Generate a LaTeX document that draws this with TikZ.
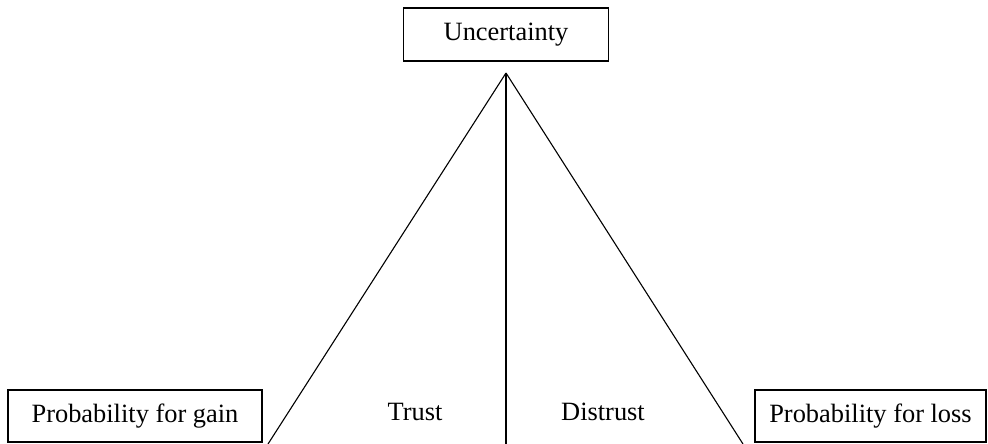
\documentclass[tikz,border=0pt]{standalone}
\usepackage{fontspec}
\setmainfont{Liberation Serif}
\begin{document}
\begin{tikzpicture}[x=1pt,y=-1pt,
  lbl/.style={font=\fontsize{26.4}{31}\selectfont, inner sep=0pt},
  box/.style={lbl, draw, line width=1.2pt},
  edge/.style={line width=1.1pt}]
\useasboundingbox (0,0) rectangle (988,444);
% boxes
\node[box, minimum width=205pt, minimum height=53pt] (unc) at (506,34.5) {Uncertainty};
\node[box, minimum width=254pt, minimum height=52pt] (gain) at (135,416) {Probability for gain};
\node[box, minimum width=231pt, minimum height=52pt] (loss) at (870.5,416) {Probability for loss};
% apex and base points of the three lines
\coordinate (apex) at (506,73);
\coordinate (bl) at (268,444);
\coordinate (bm) at (506,444);
\coordinate (br) at (743,444);
\draw[edge] (apex) -- (bl);
\draw[edge] (apex) -- (bm);
\draw[edge] (apex) -- (br);
% region labels
\node[lbl, anchor=base] (trust) at (415,420) {Trust};
\node[lbl, anchor=base] (distrust) at (603,420) {Distrust};
\end{tikzpicture}
\end{document}
